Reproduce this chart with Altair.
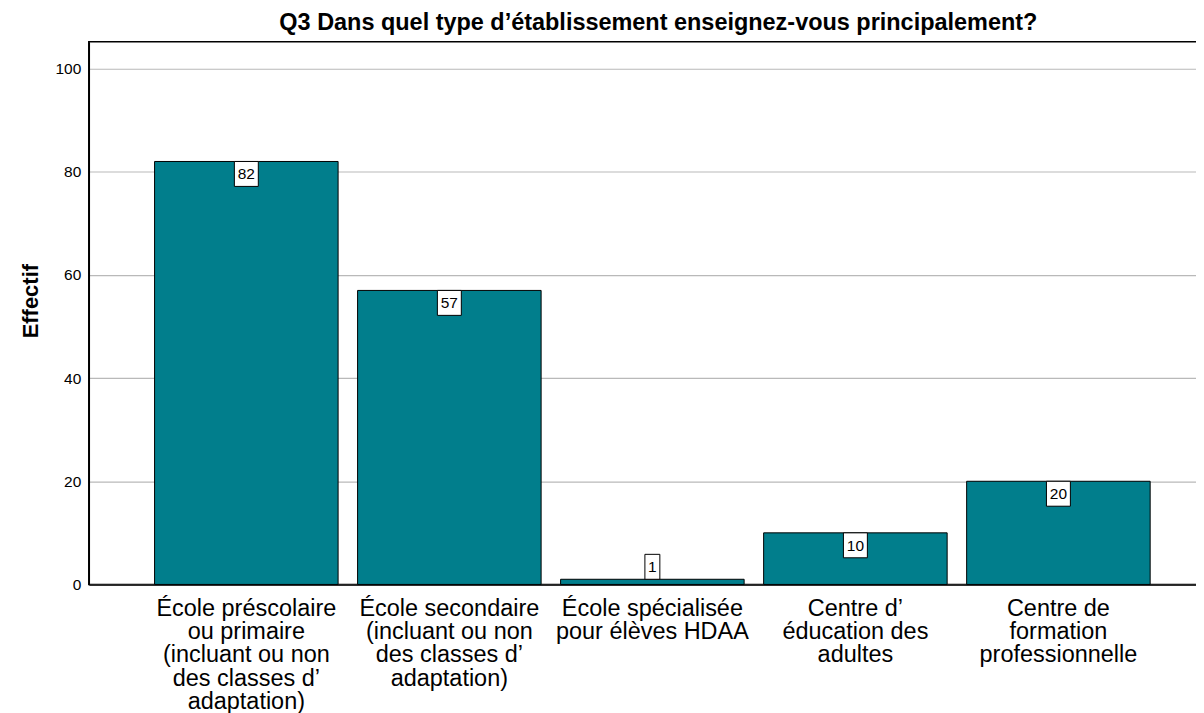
import altair as alt
import pandas as pd

categories = [
    "École préscolaire|ou primaire|(incluant ou non|des classes d’|adaptation)",
    "École secondaire|(incluant ou non|des classes d’|adaptation)",
    "École spécialisée|pour élèves HDAA",
    "Centre d’|éducation des|adultes",
    "Centre de|formation|professionnelle",
]
values = [82, 57, 1, 10, 20]
y_ticks = [0, 20, 40, 60, 80, 100]

df = pd.DataFrame({"cat": categories, "v": values})

FONT = "Liberation Sans"

x_enc = alt.X(
    "cat:N",
    sort=categories,
    scale=alt.Scale(paddingInner=0.096, paddingOuter=0.324),
    axis=alt.Axis(
        title=None,
        labelExpr="split(datum.label, '|')",
        labelFontSize=23.5,
        labelLineHeight=23.3,
        labelAngle=0,
        labelPadding=12,
        labelBaseline="top",
        labelLimit=0,
        labelColor="#000000",
        ticks=False,
        domainColor="#000000",
        domainWidth=1.5,
        grid=False,
    ),
)
x_plain = alt.X("cat:N", sort=categories)

y_scale = alt.Scale(domain=[0, 105.2], nice=False, zero=True)

base = alt.Chart(df)

bars = base.mark_bar(color="#017E8C", stroke="#000000", strokeWidth=1).encode(
    x=x_enc,
    y=alt.Y(
        "v:Q",
        scale=y_scale,
        axis=alt.Axis(
            values=y_ticks,
            grid=True,
            gridColor="#b9b9b9",
            gridWidth=1.2,
            ticks=False,
            labelPadding=8,
            labelFontSize=15.5,
            labelColor="#000000",
            domainColor="#000000",
            domainWidth=1.5,
            title="Effectif",
            titleFontSize=22,
            titleFontWeight="bold",
            titleColor="#000000",
            titleAngle=270,
            titleX=-51,
            titleY=259.5,
            titleAlign="center",
            titleBaseline="alphabetic",
        ),
    ),
)

inside = base.transform_filter("datum.v >= 5")
above = base.transform_filter("datum.v < 5")

box_in = inside.mark_bar(
    width=24, fill="#ffffff", stroke="#000000", strokeWidth=1, y2Offset=25
).encode(x=x_plain, y=alt.Y("v:Q", scale=y_scale), y2="v:Q")
txt_in = inside.mark_text(
    fontSize=15.5, dy=13, baseline="middle", align="center", color="#000000", font=FONT
).encode(x=x_plain, y=alt.Y("v:Q", scale=y_scale), text="v:Q")

box_up = above.mark_bar(
    width=15, fill="#ffffff", stroke="#000000", strokeWidth=1, yOffset=-25
).encode(x=x_plain, y=alt.Y("v:Q", scale=y_scale), y2="v:Q")
txt_up = above.mark_text(
    fontSize=15.5, dy=-12, baseline="middle", align="center", color="#000000", font=FONT
).encode(x=x_plain, y=alt.Y("v:Q", scale=y_scale), text="v:Q")

chart = (
    alt.layer(bars, box_in, txt_in, box_up, txt_up)
    .properties(
        width=1130,
        height=544,
        title=alt.TitleParams(
            "Q3 Dans quel type d’établissement enseignez-vous principalement?",
            fontSize=23.5,
            fontWeight="bold",
            font=FONT,
            color="#000000",
            anchor="middle",
            baseline="alphabetic",
            offset=-12,
            dx=6,
        ),
        autosize=alt.AutoSizeParams(type="none"),
        padding={"left": 81, "top": 33, "right": -20, "bottom": 128},
    )
    .configure(font=FONT)
    .configure_view(stroke="#000000", strokeWidth=1.5)
)

chart.save("out.html", embed_options={"renderer": "svg", "actions": False})
